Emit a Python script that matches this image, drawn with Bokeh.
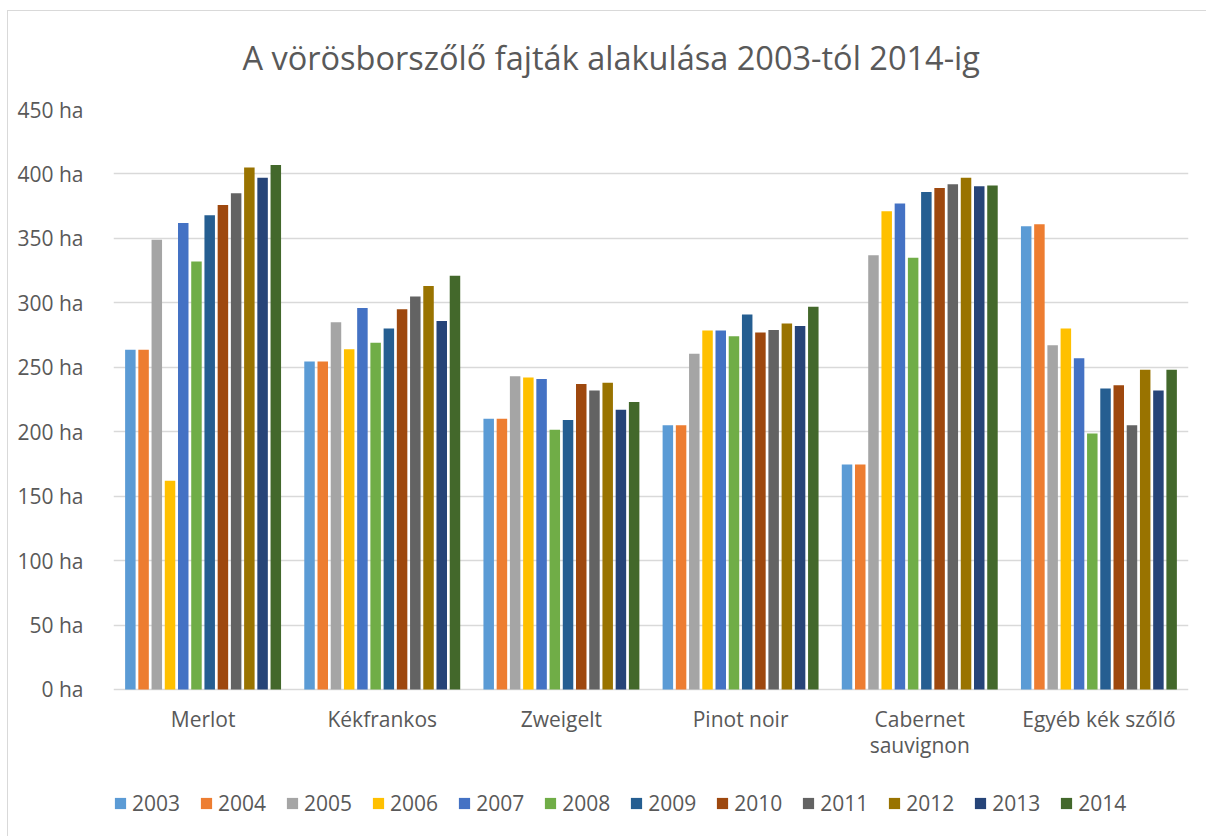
from bokeh.plotting import figure
from bokeh.models import (ColumnDataSource, FactorRange, Range1d, PrintfTickFormatter,
                          FixedTicker, Legend, InlineStyleSheet)
from bokeh.core.properties import value
from bokeh.transform import dodge
from bokeh.embed import file_html
from bokeh.resources import INLINE

categories = ["Merlot", "Kékfrankos", "Zweigelt", "Pinot noir", "Cabernet\nsauvignon", "Egyéb kék szőlő"]
years = ["2003", "2004", "2005", "2006", "2007", "2008", "2009", "2010", "2011", "2012", "2013", "2014"]
y_ticks = [0, 50, 100, 150, 200, 250, 300, 350, 400, 450]

v2003 = [263.6, 254.5, 210, 205, 174.6, 359.5]
v2004 = [263.6, 254.5, 210, 205, 174.6, 361]
v2005 = [349, 285, 243, 260.5, 337, 267]
v2006 = [162, 264, 242, 278.5, 371, 280]
v2007 = [362, 296, 241, 278.5, 377, 257]
v2008 = [332, 269, 201.5, 274, 335, 198.6]
v2009 = [368, 280, 209, 291, 386, 233.5]
v2010 = [376, 295, 237, 277, 389, 236]
v2011 = [385, 305, 232, 279, 392, 205]
v2012 = [405, 313, 238, 284, 397, 248]
v2013 = [397, 286, 217, 282, 390.5, 232]
v2014 = [407, 321, 223, 297, 391, 248]

series = [v2003, v2004, v2005, v2006, v2007, v2008, v2009, v2010, v2011, v2012, v2013, v2014]
colors = ["#5B9BD5", "#ED7D31", "#A5A5A5", "#FFC000", "#4472C4", "#70AD47",
          "#255E91", "#9E480E", "#636363", "#997300", "#264478", "#43682B"]

data = {"cat": categories, "base": [0] * len(categories)}
for y, vals in zip(years, series):
    data["y" + y] = vals
src = ColumnDataSource(data)

FONT = "Open Sans"
TXT = "#595959"
GRID = "#d9d9d9"

# frame runs from the top gridline down to the bottom of the canvas; the
# part below 0 holds the category labels and the legend
p = figure(width=1200, height=830, output_backend="svg", toolbar_location=None,
           x_range=FactorRange(*categories, range_padding=0, factor_padding=0),
           y_range=Range1d(-109.4, 450), x_axis_location=None,
           min_border_left=113, min_border_right=12, min_border_top=109, min_border_bottom=0)
p.stylesheets = [InlineStyleSheet(css=(
    ":host { position: relative; }"
    ":host::after { content: ''; position: absolute; left: 7px; top: 10px; right: -20px; bottom: -20px;"
    " border-left: 1px solid #d9d9d9; border-top: 1px solid #d9d9d9; pointer-events: none; z-index: 5; }"))]

p.title.text = "A vörösborszőlő fajták alakulása 2003-tól 2014-ig"
p.title.align = "left"
p.title.offset = 129
p.title.text_font = FONT
p.title.text_font_size = "32.5px"
p.title.text_font_style = "normal"
p.title.text_color = TXT
p.title.standoff = 59

pitch = 0.0738
renderers = []
for j, (y, c) in enumerate(zip(years, colors)):
    r = p.vbar(x=dodge("cat", (j - 5.5) * pitch, range=p.x_range), top="y" + y,
               width=0.0586, source=src, fill_color=c, line_color=None)
    renderers.append((y, [r]))

# category labels under the baseline
p.text(x="cat", y="base", text="cat", source=src, y_offset=15.5,
       text_align="center", text_baseline="top", text_font=value(FONT),
       text_font_size="21px", text_color=TXT, text_line_height=0.94)

legend = Legend(items=renderers, orientation="horizontal", location=(0, 13),
                label_text_font=FONT, label_text_font_size="21px", label_text_color=TXT,
                glyph_width=14, glyph_height=14, label_standoff=5, spacing=19,
                border_line_color=None, background_fill_alpha=0, margin=0, padding=0)
p.add_layout(legend, "center")

p.outline_line_color = None
p.xgrid.grid_line_color = None
p.ygrid.grid_line_color = GRID
p.ygrid.grid_line_width = 1.3
p.yaxis.ticker = FixedTicker(ticks=y_ticks)
p.yaxis.formatter = PrintfTickFormatter(format="%d ha")
p.yaxis.axis_line_color = None
p.yaxis.major_tick_line_color = None
p.yaxis.minor_tick_line_color = None
p.yaxis.major_label_standoff = 24
p.yaxis.major_label_text_font = FONT
p.yaxis.major_label_text_font_size = "21px"
p.yaxis.major_label_text_color = TXT

open("out.html", "w").write(file_html(p, INLINE))
